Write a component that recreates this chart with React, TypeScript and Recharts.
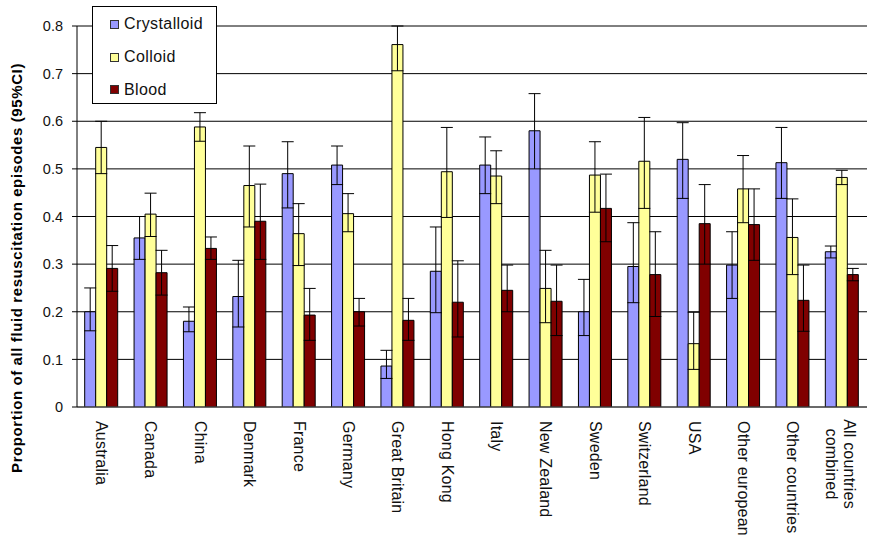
import {
  BarChart,
  Bar,
  XAxis,
  YAxis,
  CartesianGrid,
  ErrorBar,
  Legend,
  Label,
} from "recharts"

const categories = [
  "Australia",
  "Canada",
  "China",
  "Denmark",
  "France",
  "Germany",
  "Great Britain",
  "Hong Kong",
  "Italy",
  "New Zealand",
  "Sweden",
  "Switzerland",
  "USA",
  "Other european",
  "Other countries",
  "All countries combined",
]

const seriesNames = ["Crystalloid", "Colloid", "Blood"]

// point estimates and 95% CI bounds
const crystalloid = [0.2, 0.355, 0.18, 0.232, 0.49, 0.508, 0.086, 0.285, 0.508, 0.58, 0.2, 0.295, 0.52, 0.298, 0.513, 0.326]
const crystalloidLow = [0.16, 0.31, 0.158, 0.168, 0.418, 0.467, 0.06, 0.198, 0.448, 0.5, 0.15, 0.219, 0.438, 0.228, 0.438, 0.313]
const crystalloidHigh = [0.25, 0.4, 0.21, 0.308, 0.557, 0.548, 0.119, 0.378, 0.567, 0.658, 0.268, 0.387, 0.597, 0.368, 0.587, 0.338]

const colloid = [0.545, 0.405, 0.588, 0.465, 0.364, 0.406, 0.761, 0.494, 0.485, 0.249, 0.487, 0.516, 0.133, 0.458, 0.356, 0.482]
const colloidLow = [0.49, 0.358, 0.558, 0.378, 0.297, 0.368, 0.706, 0.398, 0.427, 0.177, 0.409, 0.417, 0.079, 0.387, 0.278, 0.467]
const colloidHigh = [0.6, 0.449, 0.618, 0.548, 0.427, 0.448, 0.8, 0.587, 0.538, 0.329, 0.557, 0.608, 0.199, 0.528, 0.437, 0.497]

const blood = [0.291, 0.282, 0.333, 0.39, 0.193, 0.2, 0.182, 0.22, 0.245, 0.222, 0.417, 0.278, 0.385, 0.383, 0.224, 0.278]
const bloodLow = [0.243, 0.235, 0.31, 0.31, 0.14, 0.17, 0.14, 0.147, 0.2, 0.15, 0.347, 0.19, 0.3, 0.308, 0.159, 0.265]
const bloodHigh = [0.339, 0.329, 0.357, 0.468, 0.249, 0.228, 0.228, 0.307, 0.298, 0.298, 0.489, 0.368, 0.467, 0.458, 0.298, 0.291]

const yTicks = [0, 0.1, 0.2, 0.3, 0.4, 0.5, 0.6, 0.7, 0.8]

const FONT = '"Liberation Sans", Arial, sans-serif'

const data = categories.map((name, i) => ({
  name,
  crystalloid: crystalloid[i],
  crystalloidErr: [crystalloid[i] - crystalloidLow[i], crystalloidHigh[i] - crystalloid[i]],
  colloid: colloid[i],
  colloidErr: [colloid[i] - colloidLow[i], colloidHigh[i] - colloid[i]],
  blood: blood[i],
  bloodErr: [blood[i] - bloodLow[i], bloodHigh[i] - blood[i]],
}))

// long names wrap onto two lines at the last space
function splitLabel(label: string) {
  if (label.length <= 16) return [label]
  const cut = label.lastIndexOf(" ")
  return [label.slice(0, cut), label.slice(cut + 1)]
}

function CountryTick({ x, y, payload }: any) {
  const lines = splitLabel(String(payload.value))
  const multi = lines.length > 1
  return (
    <g transform={`translate(${x},${y + 14}) rotate(90)`}>
      <text
        x={multi ? 43 : 0}
        y={0}
        textAnchor={multi ? "middle" : "start"}
        fontFamily={FONT}
        fontSize={16}
        letterSpacing={0.2}
        fill="#111"
      >
        {lines.map((line, i) => (
          <tspan key={i} x={multi ? 43 : 0} dy={i === 0 ? (multi ? -1.7 : 5.6) : 18.3}>
            {line}
          </tspan>
        ))}
      </text>
    </g>
  )
}

function LegendBox({ payload }: any) {
  const items = [...(payload ?? [])].sort(
    (a: any, b: any) => seriesNames.indexOf(a.value) - seriesNames.indexOf(b.value)
  )
  return (
    <div
      style={{
        width: 125,
        height: 98,
        boxSizing: "border-box",
        border: "1px solid #000",
        background: "#fff",
        paddingTop: 1,
        fontFamily: FONT,
        fontSize: 16,
        letterSpacing: 0.4,
        color: "#111",
      }}
    >
      {items.map((entry: any) => (
        <div
          key={entry.value}
          style={{ display: "flex", alignItems: "center", height: 32.7, paddingLeft: 17 }}
        >
          <span
            style={{
              display: "inline-block",
              width: 7,
              height: 7,
              border: "1px solid #333",
              background: entry.color,
              marginRight: 5,
            }}
          />
          <span>{entry.value}</span>
        </div>
      ))}
    </div>
  )
}

export default function App() {
  return (
    <div style={{ position: "absolute", left: 0, top: 0, background: "#fff" }}>
      <BarChart
        width={874}
        height={537}
        data={data}
        margin={{ top: 26, right: 7, bottom: 5, left: 30 }}
        barCategoryGap="15.6%"
        barGap={0}
      >
        <CartesianGrid vertical={false} stroke="#000" strokeWidth={1} />
        <XAxis
          dataKey="name"
          interval={0}
          height={125}
          tickSize={0}
          tickMargin={0}
          tickLine={false}
          axisLine={{ stroke: "#555" }}
          tick={<CountryTick />}
        />
        <XAxis
          xAxisId="top"
          orientation="top"
          dataKey="name"
          height={0}
          tick={false}
          tickLine={false}
          axisLine={{ stroke: "#888" }}
        />
        <YAxis
          domain={[0, 0.8]}
          allowDataOverflow
          ticks={yTicks}
          width={47}
          tickSize={5}
          tickMargin={9}
          tickLine={{ stroke: "#000" }}
          axisLine={{ stroke: "#000" }}
          tick={{ fontFamily: FONT, fontSize: 14.5, fill: "#111" }}
          tickFormatter={(v: number) => (v === 0 ? "0" : v.toFixed(1))}
        >
          <Label
            content={() => (
              <text
                x={16.5}
                y={268}
                transform="rotate(-90 16.5 268)"
                textAnchor="middle"
                dominantBaseline="central"
                fontFamily={FONT}
                fontSize={15}
                fontWeight="bold"
                letterSpacing={0.6}
                fill="#000"
              >
                Proportion of all fluid resuscitation episodes (95%CI)
              </text>
            )}
          />
        </YAxis>
        <YAxis
          yAxisId="right"
          orientation="right"
          domain={[0, 0.8]}
          width={0}
          tick={false}
          tickLine={false}
          axisLine={{ stroke: "#888" }}
        />
        <Legend
          layout="vertical"
          align="center"
          verticalAlign="middle"
          content={<LegendBox />}
          wrapperStyle={{ position: "absolute", left: 92, top: 6, width: 125, height: 98 }}
        />
        <Bar dataKey="crystalloid" name="Crystalloid" fill="#9999FF" stroke="#000" strokeWidth={1} isAnimationActive={false}>
          <ErrorBar dataKey="crystalloidErr" width={6} stroke="#000" strokeWidth={1} isAnimationActive={false} />
        </Bar>
        <Bar dataKey="colloid" name="Colloid" fill="#FFFF99" stroke="#000" strokeWidth={1} isAnimationActive={false}>
          <ErrorBar dataKey="colloidErr" width={6} stroke="#000" strokeWidth={1} isAnimationActive={false} />
        </Bar>
        <Bar dataKey="blood" name="Blood" fill="#800000" stroke="#000" strokeWidth={1} isAnimationActive={false}>
          <ErrorBar dataKey="bloodErr" width={6} stroke="#000" strokeWidth={1} isAnimationActive={false} />
        </Bar>
      </BarChart>
    </div>
  )
}
